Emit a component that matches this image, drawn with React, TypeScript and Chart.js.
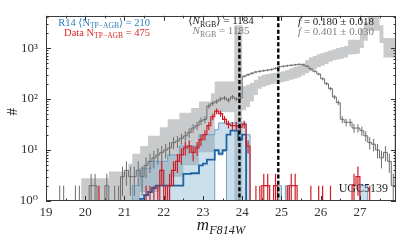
import React, { useEffect, useRef } from 'react';
import { Chart, registerables } from 'chart.js';
Chart.register(...registerables);

// ---------- axes ----------
const X_MIN = 19.0;
const X_MAX = 27.92;
const Y_MIN = 1;
const Y_MAX = 4300;
const xTicks = [19, 20, 21, 22, 23, 24, 25, 26, 27];
const xTickLabels = ['19', '20', '21', '22', '23', '24', '25', '26', '27'];
const yTicks = [1, 10, 100, 1000];
const yTickLabels = ['10⁰', '10¹', '10²', '10³'];

// ---------- histogram bins: 0.1 mag, first bin starts at 19.0 ----------
const BIN_START = 19.0;
const BIN_WIDTH = 0.1;
const N = 0.5; // empty bin (below the axis)

// full data histogram (gray, with Poisson errors)
const grayCounts = [
  /*19*/ 0, 0, 0, 1, 1, 0, 0, 1, 1, 0,
  /*20*/ 0, 2, 2, 0, 0, 2, 0, 1, 1, 3,
  /*21*/ 4, 3, 3, 4, 3, 5, 6, 7, 8, 9,
  /*22*/ 10, 11, 14, 15, 17, 19, 22, 27, 30, 37,
  /*23*/ 40, 73, 83, 90, 100, 105, 95, 110, 100, 105,
  /*24*/ 280, 300, 320, 340, 350, 360, 370, 380, 400, 430,
  /*25*/ 440, 450, 460, 470, 480, 470, 440, 390, 350, 310,
  /*26*/ 250, 200, 160, 110, 85, 40, 35, 35, 27, 27,
  /*27*/ 24, 19, 14, 13, 10, 7, 9, 6, 2, 90,
];

// model range (light gray band)
const bandLow = [
  /*19*/ N, N, N, N, N, N, N, N, N, N,
  /*20*/ N, N, N, N, N, N, N, N, N, N,
  /*21*/ N, N, N, N, 1.5, 1.5, 1.5, 1.5, 1.5, 2,
  /*22*/ 2, 2, 3, 3, 3, 5, 5, 5, 5, 9,
  /*23*/ 9, 9, 9, 55, 55, 55, 55, 55, N, N,
  /*24*/ 60, 70, 90, 120, 160, 175, 185, 195, 200, 210,
  /*25*/ 215, 225, 240, 250, 265, 290, 320, 350, 380, 420,
  /*26*/ 450, 490, 540, 580, 600, 620, 650, 750, 760, 770,
  /*27*/ 1000, 1400, 2200, 2200, 2200, 1260, 650, 650, 650, 650,
];
const bandHigh = [
  /*19*/ N, N, N, N, N, N, N, N, N, 2.8,
  /*20*/ 2.8, 2.8, 2.8, 2.8, 2.8, 2.8, 3.8, 3.8, 3.8, 3.8,
  /*21*/ 3.8, 5.4, 8.5, 8.5, 12, 12, 19, 19, 19, 28,
  /*22*/ 28, 40, 40, 40, 54, 54, 54, 67, 67, 90,
  /*23*/ 90, 90, 130, 220, 220, 220, 220, 220, 2800, 2800,
  /*24*/ 180, 190, 210, 240, 280, 300, 310, 320, 330, 340,
  /*25*/ 350, 370, 400, 430, 450, 500, 580, 650, 700, 760,
  /*26*/ 800, 850, 900, 950, 1000, 1050, 1100, 1450, 1450, 1450,
  /*27*/ 2400, 3200, 5000, 5000, 5000, 2800, 1570, 1570, 1570, 1570,
];

// R14 TP-AGB model range (light blue) and mean (dark blue)
const blueLow = [
  /*19*/ N, N, N, N, N, N, N, N, N, N,
  /*20*/ N, N, N, N, N, N, N, N, N, N,
  /*21*/ N, N, N, N, N, N, N, N, N, N,
  /*22*/ N, N, N, N, N, N, N, N, N, N,
  /*23*/ N, N, N, 9.5, 8, 9.5, N, N, N, N,
  /*24*/ N, N, N, N, N, N, N, N, N, N,
  /*25*/ N, N, N, N, N, N, N, N, N, N,
  /*26*/ N, N, N, N, N, N, N, N, N, N,
  /*27*/ N, N, N, N, N, N, N, N, N, N,
];
const blueHigh = [
  /*19*/ N, N, N, N, N, N, N, N, N, N,
  /*20*/ N, N, N, N, N, N, N, N, N, N,
  /*21*/ N, N, 2, 2, 4.4, 4.4, 4.4, 6, 6, 6,
  /*22*/ 6, 8, 8, 8, 12, 12, 12, 12, 12, 20,
  /*23*/ 20, 20, 20, 25, 34, 34, 34, 34, 34, 34,
  /*24*/ 34, 20, N, N, N, N, N, N, N, 2,
  /*25*/ N, 2, N, N, N, N, N, N, N, N,
  /*26*/ N, N, N, N, N, N, N, N, N, N,
  /*27*/ 2, 2, N, N, N, N, N, N, N, N,
];
const blueMean = [
  /*19*/ N, N, N, N, N, N, N, N, N, N,
  /*20*/ N, N, N, N, N, N, N, N, N, N,
  /*21*/ N, N, N, N, 1.1, 1.3, 1.5, 1.8, 2, 2,
  /*22*/ 2, 2, 2, 2, 2, 3.4, 3.4, 3.5, 3.5, 5,
  /*23*/ 5.4, 6.5, 6.5, 10, 8.5, 10, 20, 24, 24, 16,
  /*24*/ 20, N, N, N, N, N, N, N, N, N,
  /*25*/ N, N, N, N, N, N, N, N, N, N,
  /*26*/ N, N, N, N, N, N, N, N, N, N,
  /*27*/ N, N, N, N, N, N, N, N, N, N,
];

// observed TP-AGB histogram (red, with Poisson errors)
const redCounts = [
  /*19*/ 0, 0, 0, 0, 0, 0, 0, 0, 0, 0,
  /*20*/ 0, 0, 0, 1, 0, 0, 0, 0, 0, 0,
  /*21*/ 0, 0, 0, 0, 0, 1, 1, 1, 1, 4,
  /*22*/ 1, 2, 4, 6, 8, 11, 12, 9, 11, 16,
  /*23*/ 20, 30, 45, 58, 52, 40, 32, 30, 30, 28,
  /*24*/ 32, 12, 0, 1, 1, 2, 2, 0, 2, 0,
  /*25*/ 0, 1, 2, 2, 0, 0, 0, 1, 0, 1,
  /*26*/ 1, 0, 1, 0, 0, 0, 0, 0, 2, 3,
  /*27*/ 0, 0, 1, 0, 0, 0, 0, 0, 0, 0,
];

// TRGB and completeness limits
const trgbMag = 23.93;
const trgbLineTop = 2000;
const limitMag = 24.92;

// ---------- texts ----------
type Seg = { t: string; sub?: boolean; it?: boolean };
const legendR14: Seg[] = [{ t: 'R14 ⟨N' }, { t: 'TP−AGB', sub: true }, { t: '⟩ = 210' }];
const legendData: Seg[] = [{ t: 'Data N' }, { t: 'TP−AGB', sub: true }, { t: ' = 475' }];
const legendRgbModel: Seg[] = [{ t: '⟨' }, { t: 'N', it: true }, { t: 'RGB', sub: true }, { t: '⟩ = 1184' }];
const legendRgbData: Seg[] = [{ t: 'N', it: true }, { t: 'RGB', sub: true }, { t: ' = 1185' }];
const legendFModel: Seg[] = [{ t: 'f', it: true }, { t: ' = 0.180 ± 0.018' }];
const legendFData: Seg[] = [{ t: 'f', it: true }, { t: ' = 0.401 ± 0.030' }];
const galaxyName = 'UGC5139';
const xTitle: Seg[] = [{ t: 'm', it: true }, { t: 'F814W', it: true, sub: true }];
const yTitle = '#';

const SERIF = '"Liberation Serif", "DejaVu Serif", serif';

function stepPoints(vals: number[]) {
  const pts = vals.map((v, i) => ({ x: BIN_START + i * BIN_WIDTH, y: v > 0 ? v : N }));
  const last = vals[vals.length - 1];
  pts.push({ x: BIN_START + vals.length * BIN_WIDTH, y: last > 0 ? last : N });
  return pts;
}

function drawRich(ctx: CanvasRenderingContext2D, segs: Seg[], x: number, base: number,
  align: 'left' | 'center' | 'right', color: string, size: number) {
  const subSize = size * 0.72;
  const font = (s: Seg) => `${s.it ? 'italic ' : ''}${s.sub ? subSize : size}px ${SERIF}`;
  let w = 0;
  for (const s of segs) { ctx.font = font(s); w += ctx.measureText(s.t).width; }
  let cx = align === 'right' ? x - w : align === 'center' ? x - w / 2 : x;
  ctx.fillStyle = color;
  ctx.textAlign = 'left';
  ctx.textBaseline = 'alphabetic';
  for (const s of segs) {
    ctx.font = font(s);
    ctx.fillText(s.t, cx, base + (s.sub ? size * 0.22 : 0));
    cx += ctx.measureText(s.t).width;
  }
}

function drawErrors(chart: any, counts: number[], color: string, width: number) {
  const { ctx, chartArea: a } = chart;
  const x = chart.scales.x, y = chart.scales.y;
  ctx.save();
  ctx.beginPath();
  ctx.rect(a.left, a.top, a.right - a.left, a.bottom - a.top);
  ctx.clip();
  ctx.strokeStyle = color;
  ctx.lineWidth = width;
  ctx.beginPath();
  counts.forEach((n, i) => {
    if (n <= 0) return;
    const e = Math.sqrt(n);
    const px = x.getPixelForValue(BIN_START + (i + 0.5) * BIN_WIDTH);
    const lo = n - e > 0 ? y.getPixelForValue(n - e) : a.bottom + 2;
    const hi = y.getPixelForValue(n + e);
    ctx.moveTo(px, lo);
    ctx.lineTo(px, hi);
  });
  ctx.stroke();
  ctx.restore();
}

const overlayPlugin = {
  id: 'overlay',
  afterDatasetDraw(chart: any, args: any) {
    const ds = chart.data.datasets[args.index];
    if (ds.label === 'gray') drawErrors(chart, grayCounts, '#6d6d6d', 1);
    if (ds.label === 'red') drawErrors(chart, redCounts, '#d01c24', 1.2);
  },
  afterDraw(chart: any) {
    const { ctx, chartArea: a } = chart;
    const x = chart.scales.x, y = chart.scales.y;
    ctx.save();
    ctx.strokeStyle = '#333';
    ctx.lineWidth = 1;
    ctx.beginPath();
    // x ticks (inward), major at integers, minor at halves
    for (const v of xTicks) {
      for (const m of [v, v + 0.5]) {
        if (m > X_MAX) continue;
        const px = Math.round(x.getPixelForValue(m)) + 0.5;
        const len = m === v ? 5 : 2.5;
        ctx.moveTo(px, a.bottom); ctx.lineTo(px, a.bottom - len);
        ctx.moveTo(px, a.top); ctx.lineTo(px, a.top + len);
      }
    }
    // y ticks (inward), log minors
    for (const d of yTicks) {
      for (let k = 1; k <= 9; k++) {
        const v = d * k;
        if (v > Y_MAX) continue;
        const py = Math.round(y.getPixelForValue(v)) + 0.5;
        const len = k === 1 ? 5 : 2.5;
        ctx.moveTo(a.left, py); ctx.lineTo(a.left + len, py);
        ctx.moveTo(a.right, py); ctx.lineTo(a.right - len, py);
      }
    }
    ctx.stroke();
    // frame
    ctx.strokeStyle = '#3a3a3a';
    ctx.strokeRect(Math.round(a.left) + 0.5, Math.round(a.top) + 0.5,
      Math.round(a.right - a.left) - 1, Math.round(a.bottom - a.top) - 1);

    // legends
    drawRich(ctx, legendR14, a.left + 104, a.top + 10, 'right', '#2f7ebc', 10.5);
    drawRich(ctx, legendData, a.left + 104, a.top + 20, 'right', '#d62728', 10.5);
    const cxm = (a.left + a.right) / 2;
    drawRich(ctx, legendRgbModel, cxm, a.top + 8.5, 'center', '#1a1a1a', 11);
    drawRich(ctx, legendRgbData, cxm, a.top + 18.5, 'center', '#808080', 11);
    drawRich(ctx, legendFModel, a.left + 290, a.top + 9, 'center', '#1a1a1a', 11);
    drawRich(ctx, legendFData, a.left + 290, a.top + 19, 'center', '#808080', 11);
    ctx.font = `12px ${SERIF}`;
    ctx.fillStyle = '#222';
    ctx.textAlign = 'right';
    ctx.textBaseline = 'alphabetic';
    ctx.fillText(galaxyName, a.right - 8, a.bottom - 9);

    // axis titles
    drawRich(ctx, xTitle, cxm, a.bottom + 29, 'center', '#222', 17);
    ctx.translate(a.left - 33, a.top + 96);
    ctx.rotate(-Math.PI / 2);
    ctx.font = `15px ${SERIF}`;
    ctx.fillStyle = '#222';
    ctx.textAlign = 'center';
    ctx.textBaseline = 'middle';
    ctx.fillText(yTitle, 0, 0);
    ctx.restore();
  },
};

export default function App() {
  const ref = useRef<HTMLCanvasElement>(null);
  useEffect(() => {
    if (!ref.current) return;
    const chart = new Chart(ref.current, {
      type: 'line',
      data: {
        datasets: [
          { label: 'bandLow', data: stepPoints(bandLow), stepped: true, borderWidth: 0, fill: false, order: 10 },
          { label: 'bandHigh', data: stepPoints(bandHigh), stepped: true, borderWidth: 0, fill: '-1', backgroundColor: '#c8cacc', order: 10 },
          { label: 'blueLow', data: stepPoints(blueLow), stepped: true, borderWidth: 1, borderColor: '#6aa3cc', fill: false, order: 8 },
          { label: 'blueHigh', data: stepPoints(blueHigh), stepped: true, borderWidth: 1, borderColor: '#6aa3cc', fill: '-1', backgroundColor: 'rgba(120,170,205,0.38)', order: 8 },
          { label: 'gray', data: stepPoints(grayCounts), stepped: true, borderWidth: 1, borderColor: '#6d6d6d', fill: false, order: 6 },
          { label: 'blueMean', data: stepPoints(blueMean), stepped: true, borderWidth: 1.8, borderColor: '#1f63a0', fill: false, order: 4 },
          { label: 'red', data: stepPoints(redCounts), stepped: true, borderWidth: 1.2, borderColor: '#d01c24', fill: false, order: 2 },
          { label: 'trgb', data: [{ x: trgbMag, y: N }, { x: trgbMag, y: trgbLineTop }], borderWidth: 2.4, borderColor: '#000', borderDash: [4, 2.3], fill: false, order: 1 },
          { label: 'limit', data: [{ x: limitMag, y: N }, { x: limitMag, y: 1e5 }], borderWidth: 2.4, borderColor: '#000', borderDash: [4, 2.3], fill: false, order: 1 },
        ] as any,
      },
      options: {
        animation: false,
        responsive: true,
        maintainAspectRatio: false,
        layout: { padding: { top: 10, right: 11, left: 0, bottom: 0 } },
        elements: { point: { radius: 0, hoverRadius: 0 }, line: { tension: 0 } },
        plugins: { legend: { display: false }, tooltip: { enabled: false } },
        events: [],
        scales: {
          x: {
            type: 'linear', min: X_MIN, max: X_MAX,
            grid: { display: false, drawTicks: false },
            border: { display: false },
            afterBuildTicks: (s: any) => { s.ticks = xTicks.map((v) => ({ value: v })); },
            afterFit: (s: any) => { s.height = 43; },
            ticks: {
              font: { family: SERIF, size: 13 }, color: '#333', padding: 4,
              maxRotation: 0, autoSkip: false,
              callback: (v: any) => xTickLabels[xTicks.indexOf(Number(v))] ?? '',
            },
          },
          y: {
            type: 'logarithmic', min: Y_MIN, max: Y_MAX,
            grid: { display: false, drawTicks: false },
            border: { display: false },
            afterBuildTicks: (s: any) => { s.ticks = yTicks.map((v) => ({ value: v })); },
            afterFit: (s: any) => { s.width = 46; },
            ticks: {
              font: { family: SERIF, size: 13 }, color: '#333', padding: 8, autoSkip: false,
              callback: (v: any) => yTickLabels[yTicks.indexOf(Number(v))] ?? '',
            },
          },
        },
      } as any,
      plugins: [overlayPlugin],
    });
    return () => chart.destroy();
  }, []);
  return (
    <div style={{ position: 'absolute', left: 0, top: 0, width: 407, height: 244, background: '#fff' }}>
      <canvas ref={ref} />
    </div>
  );
}
